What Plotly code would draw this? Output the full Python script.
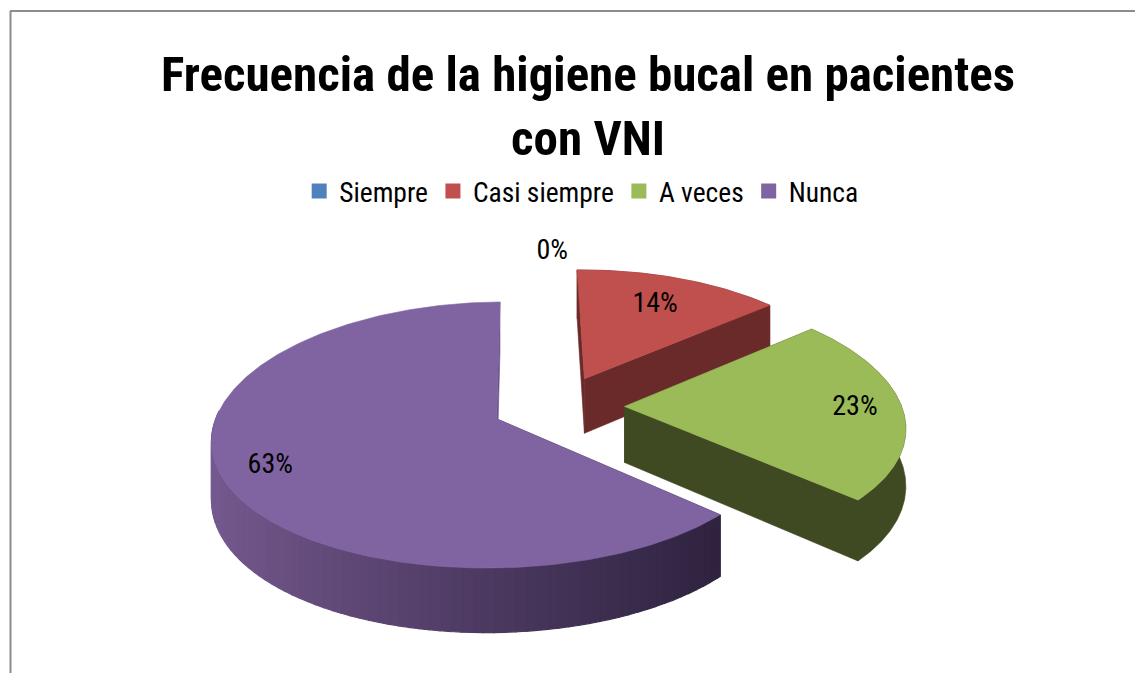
import numpy as np
import plotly.graph_objects as go

categories = ["Siempre", "Casi siempre", "A veces", "Nunca"]
values = [0, 14, 23, 63]
colors_top = ["#4f81bd", "#c0504d", "#9bbb59", "#8064a2"]
colors_side = ["#2c4a6e", "#6b2a2a", "#3f4a22", "#352842"]
label_radius = [1.17, 0.72, 0.83, 0.83]
title_text = "Frecuencia de la higiene bucal en pacientes<br>con VNI"

CX, CY, R, Q, K, KX, DEPTH, EXPLODE = 558, 406, 277, 128, 0.12, 0.14, 56, 0.24
START = np.radians(-1.0)
FONT = "Roboto Condensed"


def proj(u, v, down=0.0):
    v = np.asarray(v, dtype=float)
    p = 1 / (1 - K * v)
    px = 1 / (1 - KX * v)
    return CX + R * np.asarray(u) * px, CY + Q * v * p + down * p


def hexmix(a, b, t):
    ca = [int(a[i:i + 2], 16) for i in (1, 3, 5)]
    cb = [int(b[i:i + 2], 16) for i in (1, 3, 5)]
    return "rgb(%d,%d,%d)" % tuple(round(x + (y - x) * t) for x, y in zip(ca, cb))


fig = go.Figure()


def poly(xs, ys, color, width=0.6):
    fig.add_trace(go.Scatter(x=list(xs), y=list(ys), mode="lines", fill="toself", fillcolor=color,
                             line=dict(color=color, width=width), showlegend=False, hoverinfo="skip"))


total = sum(values)
edges = START + np.cumsum([0] + values) / total * 2 * np.pi
slices = {}
for i, (a, b) in enumerate(zip(edges[:-1], edges[1:])):
    mid = (a + b) / 2
    slices[i] = dict(a=a, b=b, mid=mid, ou=EXPLODE * np.sin(mid), ov=-EXPLODE * np.cos(mid))


def draw(i):
    s = slices[i]
    if s["b"] <= s["a"]:
        return
    t = np.linspace(s["a"], s["b"], 240)
    u = s["ou"] + np.sin(t)
    v = s["ov"] - np.cos(t)
    side = colors_side[i]
    # cut faces
    for e in (s["a"], s["b"]):
        us = np.array([s["ou"], s["ou"] + np.sin(e)])
        vs = np.array([s["ov"], s["ov"] - np.cos(e)])
        x0, y0 = proj(us, vs)
        x1, y1 = proj(us, vs, DEPTH)
        col = "#6a5288" if i == 3 and e == s["b"] else side
        poly([x0[0], x0[1], x1[1], x1[0], x0[0]], [y0[0], y0[1], y1[1], y1[0], y0[0]], col)
    # outer wall
    x0, y0 = proj(u, v)
    x1, y1 = proj(u, v, DEPTH)
    if i == 3:
        idx = np.linspace(0, 239, 121).astype(int)
        umin, umax = x0.min(), x0.max()
        for j0, j1 in zip(idx[:-1], idx[1:]):
            if v[j0] < s["ov"] - 0.05 and v[j1] < s["ov"] - 0.05:
                continue
            f = np.clip((x0[j0] - umin) / (umax - umin), 0, 1)
            col = hexmix("#75598f", "#2f2340", f ** 0.9)
            poly([x0[j0], x0[j1], x1[j1], x1[j0], x0[j0]], [y0[j0], y0[j1], y1[j1], y1[j0], y0[j0]], col, 1.2)
    else:
        poly(list(x0) + list(x1[::-1]) + [x0[0]], list(y0) + list(y1[::-1]) + [y0[0]], side)
    # top
    tx, ty = proj(np.r_[s["ou"], u, s["ou"]], np.r_[s["ov"], v, s["ov"]])
    poly(tx, ty, colors_top[i])


for i in (1, 3, 2):
    draw(i)

# legend entries
for name, c in zip(categories, colors_top):
    fig.add_trace(go.Scatter(x=[None], y=[None], mode="markers", name=name,
                             marker=dict(symbol="square", size=15, color=c)))

# data labels
for i, val in enumerate(values):
    s = slices[i]
    r = label_radius[i]
    lx, ly = proj(s["ou"] + r * np.sin(s["mid"]), s["ov"] - r * np.cos(s["mid"]))
    fig.add_trace(go.Scatter(x=[float(lx)], y=[float(ly)], mode="text", text=[f"{val}%"],
                             textfont=dict(family=FONT, size=28, color="#000000"),
                             showlegend=False, hoverinfo="skip"))

fig.update_layout(
    width=1135, height=673, margin=dict(l=0, r=0, t=0, b=0),
    paper_bgcolor="white", plot_bgcolor="white",
    title=dict(text=title_text, x=588 / 1135, xanchor="center", y=1 - 91 / 673, yanchor="top",
               font=dict(family=FONT, size=49, color="#000000", weight="bold")),
    xaxis=dict(range=[0, 1135], visible=False, fixedrange=True),
    yaxis=dict(range=[673, 0], visible=False, fixedrange=True),
    legend=dict(orientation="h", x=0.2636, xanchor="left", y=0.716, yanchor="middle",
                font=dict(family=FONT, size=27.5, color="#000000"), bgcolor="rgba(0,0,0,0)",
                itemwidth=30, tracegroupgap=0),
    shapes=[
        dict(type="line", xref="paper", yref="paper", x0=10.5 / 1135, x1=10.5 / 1135, y0=0, y1=1 - 11 / 673,
             line=dict(color="#8c8c8c", width=2)),
        dict(type="line", xref="paper", yref="paper", x0=10 / 1135, x1=1, y0=1 - 11 / 673, y1=1 - 11 / 673,
             line=dict(color="#8c8c8c", width=2)),
    ],
)
fig.write_html("out.html", config={"displayModeBar": False},
               post_script="document.body.style.margin='0';")
